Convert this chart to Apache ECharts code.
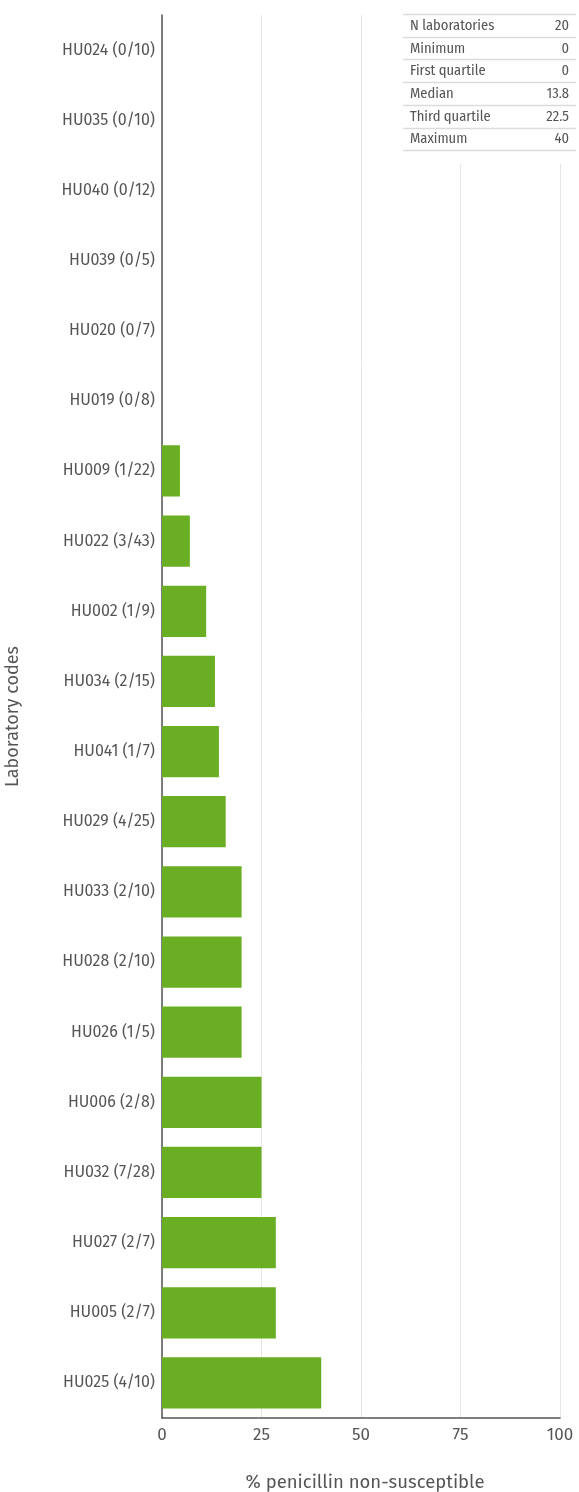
<!DOCTYPE html>
<html>
<head>
<meta charset="utf-8">
<script src="https://cdn.jsdelivr.net/npm/echarts@6/dist/echarts.min.js"></script>
<style>
  html, body { margin: 0; padding: 0; background: #fff; }
  #chart { width: 579px; height: 1492px; }
</style>
</head>
<body>
<div id="chart"></div>
<script>
// Laboratory codes with (non-susceptible / tested) counts, top to bottom
const labs = [
  'HU024 (0/10)', 'HU035 (0/10)', 'HU040 (0/12)', 'HU039 (0/5)', 'HU020 (0/7)',
  'HU019 (0/8)', 'HU009 (1/22)', 'HU022 (3/43)', 'HU002 (1/9)', 'HU034 (2/15)',
  'HU041 (1/7)', 'HU029 (4/25)', 'HU033 (2/10)', 'HU028 (2/10)', 'HU026 (1/5)',
  'HU006 (2/8)', 'HU032 (7/28)', 'HU027 (2/7)', 'HU005 (2/7)', 'HU025 (4/10)'
];
// % penicillin non-susceptible per laboratory
const pctNonSusceptible = [
  0, 0, 0, 0, 0,
  0, 4.5, 7.0, 11.1, 13.3,
  14.3, 16.0, 20.0, 20.0, 20.0,
  25.0, 25.0, 28.6, 28.6, 40.0
];
// Summary statistics table
const statNames = ['N laboratories', 'Minimum', 'First quartile', 'Median', 'Third quartile', 'Maximum'];
const statValues = ['20', '0', '0', '13.8', '22.5', '40'];

const chart = echarts.init(document.getElementById('chart'), null, { renderer: 'canvas' });

const baseFont = '"Fira Sans", "Noto Sans", sans-serif';
const tableFont = '"Fira Sans Condensed", "Liberation Sans Narrow", "Noto Sans", sans-serif';

// Build the summary table as graphic elements
const tblLeft = 403, tblRight = 576, tblTop = 14, rowH = 22.7;
const tableEls = [];
tableEls.push({
  type: 'rect', shape: { x: tblLeft - 2, y: 0, width: tblRight - tblLeft + 4, height: 164 },
  style: { fill: '#ffffff' }, z: 10
});
for (let i = 0; i <= statNames.length; i++) {
  const y = Math.round(tblTop + i * rowH) + 0.5;
  tableEls.push({
    type: 'line', shape: { x1: tblLeft, y1: y, x2: tblRight, y2: y },
    style: { stroke: '#dcdcdc', lineWidth: 1.5 }, z: 11
  });
}
statNames.forEach((name, i) => {
  const cy = tblTop + i * rowH + rowH / 2 + 0.5;
  tableEls.push({
    type: 'text', x: tblLeft + 7, y: cy,
    style: { text: name, font: '14.5px ' + tableFont, fill: '#555', verticalAlign: 'middle', align: 'left' }, z: 12
  });
  tableEls.push({
    type: 'text', x: tblRight - 7, y: cy,
    style: { text: statValues[i], font: '14.5px ' + tableFont, fill: '#555', verticalAlign: 'middle', align: 'right' }, z: 12
  });
});

chart.setOption({
  animation: false,
  backgroundColor: '#fff',
  grid: { left: 162, right: 19, top: 15, bottom: 74, containLabel: false, outerBoundsMode: 'none' },
  xAxis: {
    type: 'value', min: 0, max: 100, interval: 25,
    name: '% penicillin non-susceptible',
    nameLocation: 'middle', nameGap: 55,
    nameTextStyle: { fontSize: 18.5, color: '#555', fontFamily: baseFont, padding: [0, 0, 0, 8] },
    axisLine: { show: true, lineStyle: { color: '#555', width: 1.5 } },
    axisTick: { show: false },
    axisLabel: { fontSize: 17, color: '#555', fontFamily: baseFont, margin: 9 },
    splitLine: { show: true, lineStyle: { color: '#e6e6e6', width: 1 } }
  },
  yAxis: {
    type: 'category', data: labs, inverse: true,
    name: 'Laboratory codes',
    nameLocation: 'middle', nameGap: 140, nameRotate: 90,
    nameTextStyle: { fontSize: 18, color: '#555', fontFamily: baseFont },
    axisLine: { show: true, lineStyle: { color: '#555', width: 1.5 } },
    axisTick: { show: false },
    axisLabel: { fontSize: 16, color: '#555', fontFamily: baseFont, margin: 7 },
    splitLine: { show: false }
  },
  series: [{
    type: 'bar',
    data: pctNonSusceptible,
    barCategoryGap: '27%',
    itemStyle: { color: '#6aaf23' },
    z: 2
  }],
  graphic: tableEls
});
</script>
</body>
</html>
